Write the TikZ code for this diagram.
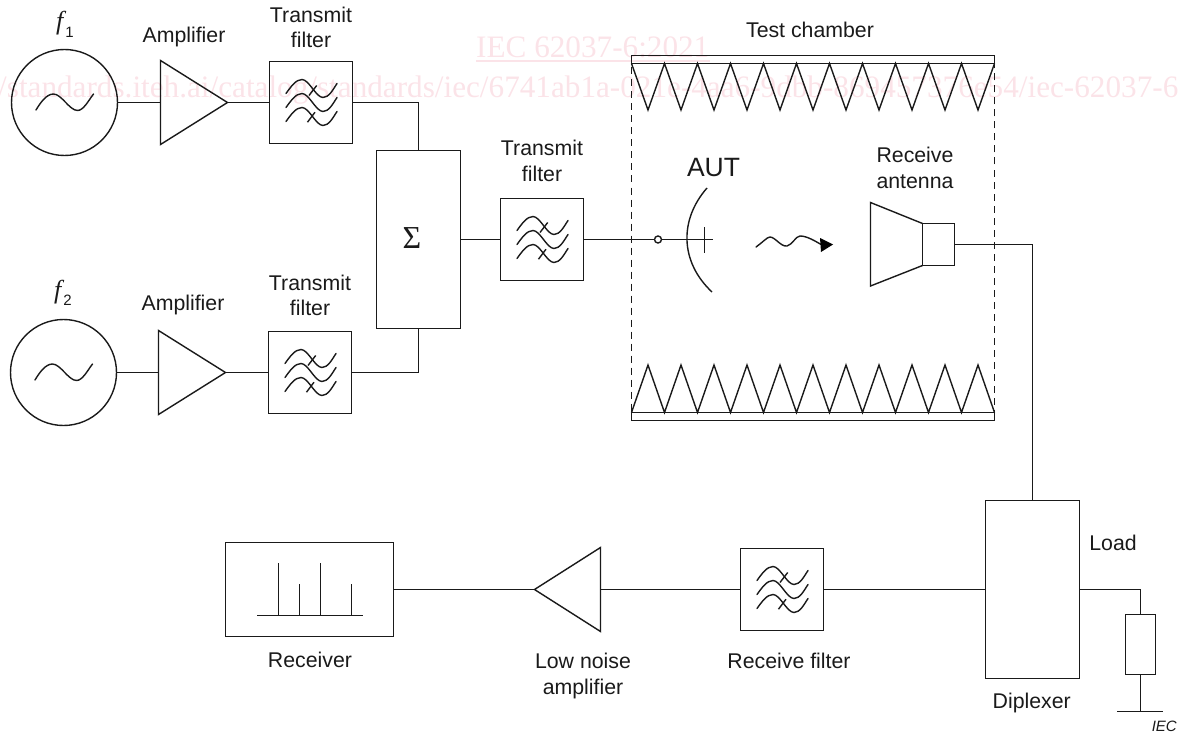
\documentclass[tikz,border=0pt]{standalone}
\usepackage{fontspec}
\setmainfont{Liberation Sans}
\newfontfamily\wfont{Liberation Serif}
\definecolor{wmark}{HTML}{FBE3E8}
\definecolor{ink}{HTML}{1A1A1A}
\newcommand{\lbl}[1]{\fontsize{#1}{26}\selectfont}
\tikzset{
  ln/.style={draw=ink,line width=1.4pt},
  blk/.style={ln,rectangle,inner sep=0pt,outer sep=0pt,fill=none},
  ampbox/.style={rectangle,inner sep=0pt,outer sep=0pt,minimum width=67pt,minimum height=84pt},
  txt/.style={inner sep=0pt,anchor=base,text=ink,font=\lbl{21.3}},
  fbox/.style={blk,minimum width=83pt,minimum height=82pt},
  wm/.style={inner sep=0pt,anchor=base west,text=wmark,font=\wfont\fontsize{31.2}{31.2}\selectfont},
  fsym/.style={inner sep=0pt,anchor=base west,text=ink,font=\wfont\itshape\fontsize{26}{26}\selectfont},
  filtersym/.pic={
    \foreach \dy in {0,14,28}{
      \draw[ln,line cap=round] (-25,-9+\dy) .. controls (-20,-16+\dy) and (-15,-23+\dy) .. (-9,-23+\dy)
        .. controls (-2,-23+\dy) and (5,-5+\dy) .. (12,-5+\dy)
        .. controls (18,-5+\dy) and (22,-13+\dy) .. (26,-19+\dy);
    }
    \draw[ln] (-2,-7) -- (5.7,-17);
    \draw[ln] (-3.5,19.7) -- (4,9.7);
  },
  sinesym/.pic={
    \draw[ln,line cap=round] (-28.5,7.5) .. controls (-24,0) and (-18,-8.5) .. (-11,-8.5)
      .. controls (-3,-8.5) and (5,8) .. (13,8)
      .. controls (19,8) and (24,-2) .. (29,-8.5);
  }
}
\begin{document}
\begin{tikzpicture}[x=1pt,y=-1pt]
\useasboundingbox (0,0) rectangle (1181,733);
% watermark
\node[wm] (wm1) at (476,58) {IEC 62037-6:2021};
\draw[wmark,line width=1.2pt] (wm1.base west)++(0,3) -- ++(234,0);
\node[wm] (wm2) at (-2,98) {/standards.iteh.ai/catalog/standards/iec/6741ab1a-021e-4aa6-9dbb-869457376e54/iec-62037-6};
% sources
\node[ln,circle,minimum size=106pt,inner sep=0pt,outer sep=0pt] (s1) at (64.5,102.5) {};
\pic at (s1.center) {sinesym};
\node[ln,circle,minimum size=106pt,inner sep=0pt,outer sep=0pt] (s2) at (63.5,372.5) {};
\pic at (s2.center) {sinesym};
\node[fsym] (f1) at (56,30) {f};
\node[txt,font=\lbl{15}] (f1s) at (69.5,38) {1};
\node[fsym] (f2) at (54,298) {f};
\node[txt,font=\lbl{15}] (f2s) at (67.5,305.5) {2};
% amplifiers
\node[ampbox] (a1) at (194,102.5) {};
\draw[ln] (a1.north west) -- (a1.east) -- (a1.south west) -- cycle;
\node[ampbox] (a2) at (192,372.5) {};
\draw[ln] (a2.north west) -- (a2.east) -- (a2.south west) -- cycle;
\node[ampbox,minimum width=66pt] (a3) at (567.5,589.5) {};
\draw[ln] (a3.north east) -- (a3.west) -- (a3.south east) -- cycle;
% filters
\node[fbox] (t1) at (311,102.5) {};
\pic at (t1.center) {filtersym};
\node[fbox] (t2) at (310,372.5) {};
\pic at (t2.center) {filtersym};
\node[fbox] (t3) at (542,239.5) {};
\pic at (t3.center) {filtersym};
\node[fbox] (r1) at (782,589.5) {};
\pic at (r1.center) {filtersym};
% summer
\node[blk,minimum width=84pt,minimum height=178pt] (sum) at (418.5,239.5) {};
\node[inner sep=0pt,anchor=base,text=ink,font=\wfont\fontsize{32}{32}\selectfont] (sigma) at (412,248) {Σ};
% chamber
\draw[ln] (631.5,55.5) rectangle (994.5,63.5);
\draw[ln] (631.5,412.5) rectangle (994.5,420.5);
\draw[ln] (631.5,63.5) \foreach \i in {0,...,10}{ -- ({631.5+33*\i+16.5},110) -- ({631.5+33*\i+33},63.5)};
\draw[ln] (631.5,412.5) \foreach \i in {0,...,10}{ -- ({631.5+33*\i+16.5},365) -- ({631.5+33*\i+33},412.5)};
\draw[ln,dash pattern=on 7pt off 5pt] (631.5,55.5) rectangle (994.5,420.5);
% AUT
\node[ln,circle,minimum size=7pt,inner sep=0pt,outer sep=0pt] (port) at (658,239.5) {};
\coordinate (stub) at (713,239.5);
\draw[ln] (t3.east) -- (port.west);
\draw[ln] (port.east) -- (stub);
\draw[ln] (704.5,227) -- (704.5,253);
\draw[ln] (707,188) .. controls (679,220) and (680,262) .. (712,292);
\draw[ln,line cap=round] (756,247) .. controls (762,243) and (767,237) .. (770,237)
  .. controls (775,237) and (781,247) .. (787,246)
  .. controls (792,245) and (796,236) .. (800,236) .. controls (807,236) and (815,241) .. (822,245);
\fill[black] (820,238) -- (833,244.5) -- (821,252) -- cycle;
% horn
\node[blk,minimum width=32pt,minimum height=42pt] (feed) at (938.5,244.5) {};
\draw[ln] (feed.north west) -- (870.5,202.5) -- (870.5,286) -- (feed.south west);
% diplexer
\node[blk,minimum width=94pt,minimum height=178pt] (dip) at (1032.5,589.5) {};
\coordinate (turn) at (dip.north |- feed.east);
\draw[ln] (feed.east) -- (turn) -- (dip.north);
% load
\node[blk,minimum width=30pt,minimum height=60pt] (load) at (1140.5,644.5) {};
\coordinate (gnd) at (1140.5,711.5);
\draw[ln] (dip.east) -| (load.north);
\draw[ln] (load.south) -- (gnd);
\draw[ln] (1117,711.5) -- (1163,711.5);
% receiver
\node[blk,minimum width=168pt,minimum height=94pt] (rx) at (309.5,589.5) {};
\draw[ln] (257,615.5) -- (362.5,615.5);
\draw[ln] (278.5,615.5) -- (278.5,563);
\draw[ln] (299.5,615.5) -- (299.5,584);
\draw[ln] (320.5,615.5) -- (320.5,563);
\draw[ln] (351.5,615.5) -- (351.5,584);
% connectors
\draw[ln] (s1.east) -- (a1.west);
\draw[ln] (a1.east) -- (t1.west);
\draw[ln] (s2.east) -- (a2.west);
\draw[ln] (a2.east) -- (t2.west);
\draw[ln] (t1.east) -| (sum.north);
\draw[ln] (t2.east) -| (sum.south);
\draw[ln] (sum.east) -- (t3.west);
\draw[ln] (rx.east) -- (a3.west);
\draw[ln] (a3.east) -- (r1.west);
\draw[ln] (r1.east) -- (dip.west);
% labels
\node[txt] (l1) at (184,43) {Amplifier};
\node[txt] (l2) at (311,22.7) {Transmit};
\node[txt] (l3) at (311,48) {filter};
\node[txt] (l4) at (183,310) {Amplifier};
\node[txt] (l5) at (310,290) {Transmit};
\node[txt] (l6) at (310,315) {filter};
\node[txt] (l7) at (542,156) {Transmit};
\node[txt] (l8) at (542,182) {filter};
\node[txt] (l9) at (810,38) {Test chamber};
\node[txt,font=\lbl{26.5}] (l10) at (713.5,176) {AUT};
\node[txt] (l11) at (915,163) {Receive};
\node[txt] (l12) at (915,189) {antenna};
\node[txt] (l13) at (1113,550) {Load};
\node[txt] (l14) at (1031.7,708) {Diplexer};
\node[txt] (l15) at (789,668) {Receive filter};
\node[txt] (l16) at (583,668) {Low noise};
\node[txt] (l17) at (583,694) {amplifier};
\node[txt] (l18) at (310,667) {Receiver};
\node[inner sep=0pt,anchor=base east,text=ink,font=\itshape\fontsize{15}{15}\selectfont] (iec) at (1177,731) {IEC};
\end{tikzpicture}
\end{document}
